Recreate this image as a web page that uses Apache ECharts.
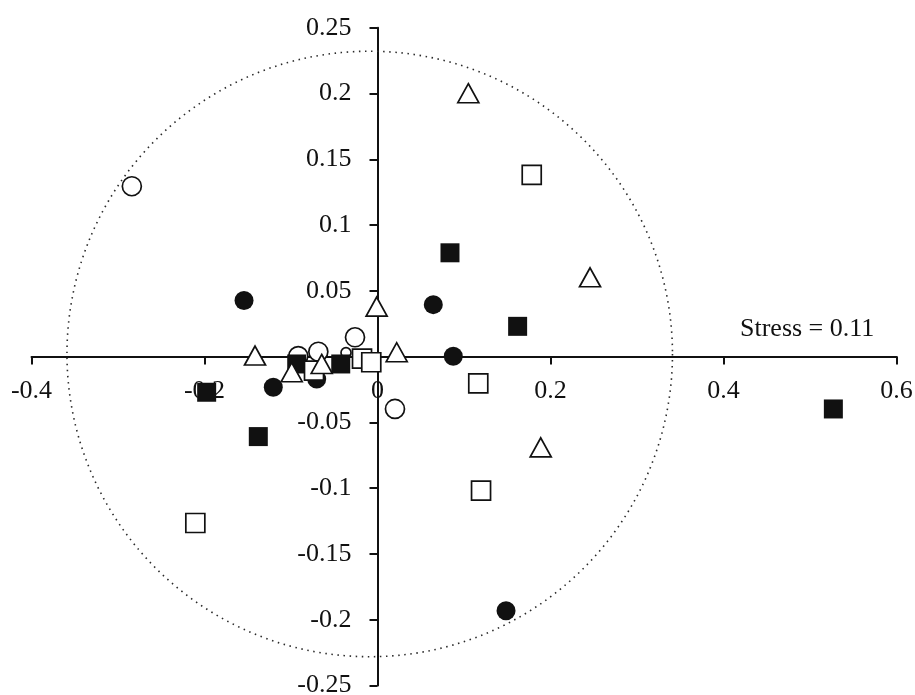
<!DOCTYPE html>
<html>
<head>
<meta charset="utf-8">
<script src="https://cdn.jsdelivr.net/npm/echarts@6/dist/echarts.min.js"></script>
<style>
html,body{margin:0;padding:0;background:#fff;}
#chart{width:915px;height:695px;}
</style>
</head>
<body>
<div id="chart"></div>
<script>
// Data (x = dimension 1, y = dimension 2)
const openCircles = [[-0.284, 0.1295], [-0.026, 0.0147], [-0.0916, 0.0004], [-0.0684, 0.0037], [0.0202, -0.0398]];
const smallOpenCircles = [[-0.0364, 0.003]];
const filledCircles = [[-0.1543, 0.0426], [0.0645, 0.0395], [0.0876, 0.0002], [-0.1205, -0.0233], [-0.0703, -0.0171], [0.1486, -0.1932]];
const filledSquares = [[0.0838, 0.0789], [0.162, 0.023], [0.527, -0.0398], [-0.1975, -0.0271], [-0.1378, -0.0608], [-0.0934, -0.0056], [-0.0425, -0.0056]];
const openSquares = [[0.1783, 0.1382], [0.1165, -0.0203], [0.1197, -0.1019], [-0.2106, -0.1265], [-0.0734, -0.0106], [-0.0179, -0.0015], [-0.0072, -0.0043]];
const openTriangles = [[0.105, 0.2002], [0.2457, 0.0603], [0.1887, -0.069], [-0.001, 0.038], [-0.1416, 0.0008], [0.0222, 0.0033], [-0.0992, -0.0119], [-0.0645, -0.0056]];
// dotted reference circle: center x, center y, radius (in x-axis units)
const refCircle = [[-0.009, 0.002, 0.35]];
const xTicks = { min: -0.4, max: 0.6, interval: 0.2 };
const yTicks = { min: -0.25, max: 0.25, interval: 0.05 };
const stressLabel = 'Stress = 0.11';

const FONT = 'Liberation Serif';
const INK = '#111';

const W = 915, H = 695;
const G = { left: 31.5, right: 18.5, top: 27.7, bottom: 9.5 };
const gw = W - G.left - G.right, gh = H - G.top - G.bottom;
// move axes from grid edges to the zero lines
const xAxisOffset = -gh * (0 - yTicks.min) / (yTicks.max - yTicks.min);
const yAxisOffset = -gw * (0 - xTicks.min) / (xTicks.max - xTicks.min);

const chart = echarts.init(document.getElementById('chart'), null, { renderer: 'canvas' });

const openStyle = { color: '#fff', borderColor: INK, borderWidth: 1.7, opacity: 1 };
const filledStyle = { color: INK, borderColor: INK, borderWidth: 0, opacity: 1 };

function scatter(name, data, symbol, size, style) {
  return {
    name, type: 'scatter', data, symbol, symbolSize: size,
    itemStyle: style, animation: false, silent: true,
    emphasis: { disabled: true }, clip: false
  };
}

const option = {
  backgroundColor: '#fff',
  animation: false,
  grid: { left: G.left, right: G.right, top: G.top, bottom: G.bottom, containLabel: false, outerBoundsMode: 'none' },
  xAxis: {
    type: 'value', min: xTicks.min, max: xTicks.max, interval: xTicks.interval,
    position: 'bottom', offset: xAxisOffset,
    axisLine: { onZero: false, lineStyle: { color: INK, width: 2 } },
    axisTick: { show: true, length: 8, lineStyle: { color: INK, width: 2 } },
    axisLabel: { fontFamily: FONT, fontSize: 26, color: INK, margin: 22 },
    splitLine: { show: false }
  },
  yAxis: {
    type: 'value', min: yTicks.min, max: yTicks.max, interval: yTicks.interval,
    position: 'left', offset: yAxisOffset,
    axisLine: { onZero: false, lineStyle: { color: INK, width: 2 } },
    axisTick: { show: true, length: 8, lineStyle: { color: INK, width: 2 } },
    axisLabel: {
      fontFamily: FONT, fontSize: 26, color: INK, margin: 26,
      formatter: v => (Math.abs(v) < 1e-9 ? '' : String(+v.toFixed(2)))
    },
    splitLine: { show: false }
  },
  graphic: [{
    type: 'text', x: 740, y: 329.5, z: 10,
    style: { text: stressLabel, font: '26px "' + FONT + '"', fill: INK, align: 'left', verticalAlign: 'middle' }
  }],
  series: [
    {
      type: 'custom', data: refCircle, silent: true, clip: false, z: 1,
      renderItem: function (params, api) {
        const c = api.coord([api.value(0), api.value(1)]);
        const r = api.size([api.value(2), 0])[0];
        return {
          type: 'circle',
          shape: { cx: c[0], cy: c[1], r: r },
          style: { fill: 'none', stroke: '#2a2a2a', lineWidth: 1.6, lineDash: [1.5, 4.6] }
        };
      }
    },
    scatter('openCircles', openCircles, 'circle', 19, openStyle),
    scatter('smallOpenCircles', smallOpenCircles, 'circle', 10, openStyle),
    scatter('filledCircles', filledCircles, 'circle', 19, filledStyle),
    scatter('filledSquares', filledSquares, 'rect', 19, filledStyle),
    scatter('openSquares', openSquares, 'rect', 19, openStyle),
    scatter('openTriangles', openTriangles, 'triangle', [21, 19], openStyle)
  ]
};
chart.setOption(option);
</script>
</body>
</html>
